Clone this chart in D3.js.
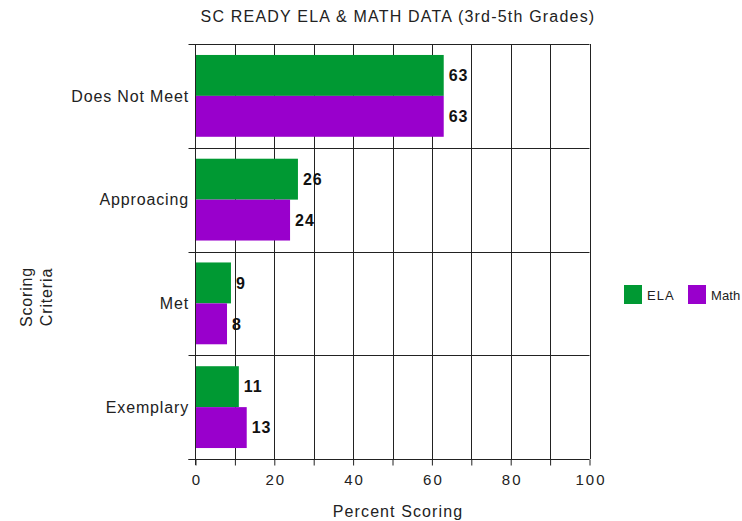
<!DOCTYPE html>
<html><head><meta charset="utf-8">
<script src="https://cdn.jsdelivr.net/npm/d3@7"></script>
<style>body{margin:0;background:#fff}svg{display:block}text{font-family:Arial,"Liberation Sans",sans-serif}</style>
</head><body>
<svg id="c" width="742" height="521"></svg>
<script>
const categories = ["Does Not Meet","Approacing","Met","Exemplary"];
const seriesNames = ["ELA","Math"];
const elaValues = [63,26,9,11];
const mathValues = [63,24,8,13];
const xTicks = [0,20,40,60,80,100];
const colors = ["#009933","#9900cc"];

const svg = d3.select("#c");
const L=195.5, R=589.5, T=44, B=459;
const x = d3.scaleLinear().domain([0,100]).range([L,R]);
const y = d3.scaleBand().domain(categories).range([T,B]);
const inner = d3.scaleBand().domain(seriesNames).range([0,y.bandwidth()]).paddingOuter(0.268).paddingInner(0);

// grid
svg.append("g").selectAll("line").data(d3.range(10,101,10)).join("line")
  .attr("x1",d=>Math.round(x(d))+0.5).attr("x2",d=>Math.round(x(d))+0.5)
  .attr("y1",T).attr("y2",B).attr("stroke","#222").attr("stroke-width",1);
svg.append("g").selectAll("line").data(d3.range(0,4)).join("line")
  .attr("x1",L).attr("x2",R)
  .attr("y1",i=>Math.round(T+i*y.step())+0.5)
  .attr("y2",i=>Math.round(T+i*y.step())+0.5)
  .attr("stroke","#222");

const data = categories.map((c,i)=>({c, vals:[elaValues[i],mathValues[i]]}));
const g = svg.append("g");
data.forEach(d=>{
  d.vals.forEach((v,j)=>{
    const yy = y(d.c)+inner(seriesNames[j]);
    g.append("rect").attr("x",x(0)).attr("y",yy).attr("width",x(v)-x(0)).attr("height",inner.bandwidth()).attr("fill",colors[j]);
    g.append("text").attr("x",x(v)+5).attr("y",yy+inner.bandwidth()/2).attr("dy","0.36em")
      .attr("font-size",16).attr("font-weight","bold").attr("letter-spacing",1).attr("fill","#111").text(v);
  });
});

// x axis
const xa = svg.append("g").attr("transform",`translate(0,${B+0.5})`)
  .call(d3.axisBottom(x).tickValues(d3.range(0,101,10)).tickSize(6).tickPadding(0).tickFormat(d=>xTicks.includes(d)?d:""));
xa.select(".domain").attr("d",`M${L-7},0H${R}`).attr("stroke","#222");
xa.selectAll(".tick line").attr("stroke","#222");
xa.selectAll(".tick text").attr("font-size",15).attr("fill","#222").attr("letter-spacing",2)
  .attr("y",25).attr("dy",0).attr("dx",1).attr("font-family","Arial,sans-serif");

// y axis
const ya = svg.append("g").attr("transform",`translate(${L},0)`);
ya.append("line").attr("x1",0).attr("x2",0).attr("y1",T).attr("y2",B+6).attr("stroke","#222");
ya.selectAll("line.t").data(d3.range(0,5)).join("line").attr("class","t")
  .attr("x1",-7).attr("x2",0).attr("y1",i=>Math.round(T+i*y.step())+0.5).attr("y2",i=>Math.round(T+i*y.step())+0.5).attr("stroke","#222");
ya.selectAll("text").data(categories).join("text")
  .attr("x",-6.5).attr("y",d=>y(d)+y.bandwidth()/2).attr("dy","0.36em").attr("text-anchor","end")
  .attr("font-size",16).attr("letter-spacing",0.85).attr("fill","#222").text(d=>d);

// title
svg.append("text").attr("x",398).attr("y",22).attr("text-anchor","middle").attr("font-size",16).attr("letter-spacing",1.2).attr("fill","#222")
  .text("SC READY ELA & MATH DATA (3rd-5th Grades)");
svg.append("text").attr("x",398).attr("y",517).attr("text-anchor","middle").attr("font-size",16).attr("letter-spacing",1.1).attr("fill","#222").text("Percent Scoring");
const yl = svg.append("text").attr("transform","translate(36,297) rotate(-90)").attr("text-anchor","middle").attr("font-size",16).attr("letter-spacing",0.85).attr("fill","#222");
yl.append("tspan").attr("x",0).attr("y",-4).text("Scoring");
yl.append("tspan").attr("x",0).attr("y",16).text("Criteria");

// legend
const lg = svg.append("g");
seriesNames.forEach((s,i)=>{
  const lx = [624,688][i];
  lg.append("rect").attr("x",lx).attr("y",285).attr("width",18).attr("height",19).attr("fill",colors[i]);
  lg.append("text").attr("x",lx+23).attr("y",300).attr("font-size",13).attr("letter-spacing",[1,0.1][i]).attr("fill","#222").text(s);
});
</script>
</body></html>
